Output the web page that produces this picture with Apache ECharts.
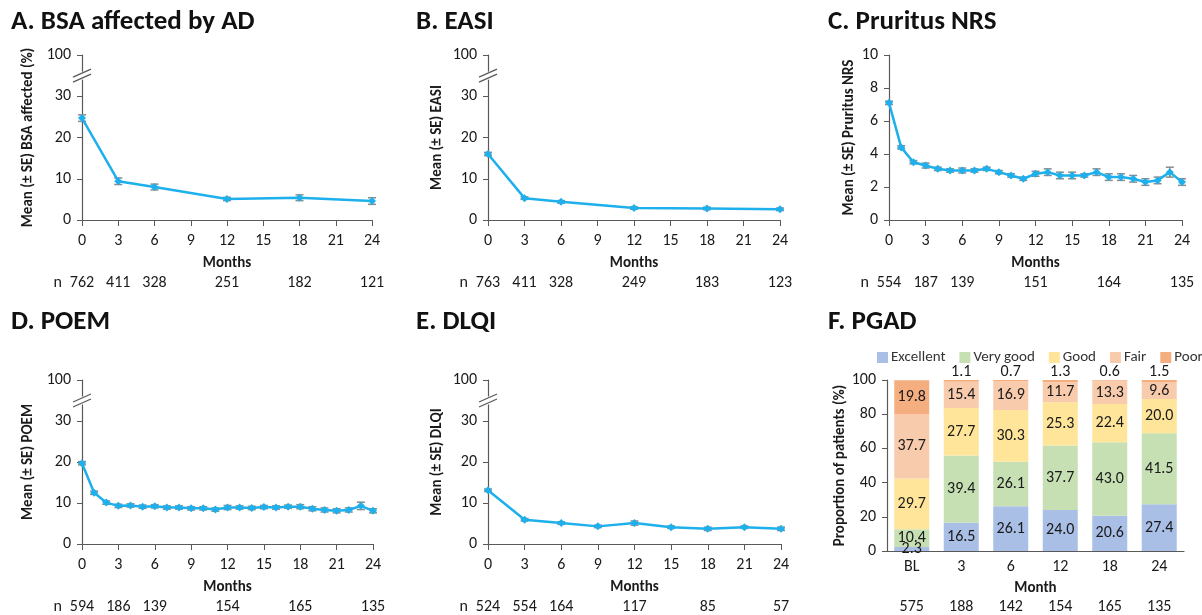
<!DOCTYPE html>
<html>
<head>
<meta charset="utf-8">
<title>Outcomes over 24 months</title>
<script src="https://cdn.jsdelivr.net/npm/echarts@6/dist/echarts.min.js"></script>
<style>
html, body { margin: 0; padding: 0; background: #fff; }
#main { width: 1202px; height: 615px; }
</style>
</head>
<body>
<div id="main"></div>
<script>
// ---- data ----
// A. BSA affected by AD
var bsaMonths = [0, 3, 6, 12, 18, 24];
var bsaMean = [24.7, 9.4, 8.0, 5.1, 5.4, 4.6];
var bsaSE = [0.8, 0.8, 0.7, 0.4, 0.7, 0.8];
var bsaN = [762, 411, 328, 251, 182, 121];

// B. EASI
var easiMonths = [0, 3, 6, 12, 18, 24];
var easiMean = [16.0, 5.3, 4.4, 2.9, 2.8, 2.6];
var easiSE = [0.4, 0.3, 0.3, 0.3, 0.3, 0.3];
var easiN = [763, 411, 328, 249, 183, 123];

// C. Pruritus NRS (monthly)
var nrsMonths = [0, 1, 2, 3, 4, 5, 6, 7, 8, 9, 10, 11, 12, 13, 14, 15, 16, 17, 18, 19, 20, 21, 22, 23, 24];
var nrsMean = [7.1, 4.4, 3.5, 3.3, 3.1, 3.0, 3.0, 3.0, 3.1, 2.9, 2.7, 2.5, 2.8, 2.9, 2.7, 2.7, 2.7, 2.9, 2.6, 2.6, 2.5, 2.3, 2.4, 2.9, 2.3];
var nrsSE = [0.1, 0.1, 0.1, 0.15, 0.1, 0.1, 0.15, 0.1, 0.1, 0.1, 0.1, 0.1, 0.15, 0.2, 0.2, 0.2, 0.1, 0.2, 0.2, 0.2, 0.2, 0.2, 0.2, 0.3, 0.2];
var nrsNMonths = [0, 3, 6, 12, 18, 24];
var nrsN = [554, 187, 139, 151, 164, 135];

// D. POEM (monthly)
var poemMonths = nrsMonths;
var poemMean = [19.7, 12.5, 10.1, 9.3, 9.4, 9.1, 9.2, 8.9, 8.9, 8.7, 8.7, 8.4, 8.9, 8.9, 8.8, 9.0, 8.9, 9.1, 9.1, 8.6, 8.3, 8.1, 8.3, 9.3, 8.1];
var poemSE = [0.4, 0.4, 0.4, 0.4, 0.4, 0.4, 0.4, 0.4, 0.4, 0.4, 0.4, 0.4, 0.5, 0.4, 0.4, 0.4, 0.4, 0.4, 0.5, 0.5, 0.5, 0.5, 0.5, 0.9, 0.5];
var poemNMonths = [0, 3, 6, 12, 18, 24];
var poemN = [594, 186, 139, 154, 165, 135];

// E. DLQI
var dlqiMonths = [0, 3, 6, 9, 12, 15, 18, 21, 24];
var dlqiMean = [13.1, 5.9, 5.1, 4.3, 5.1, 4.1, 3.7, 4.1, 3.7];
var dlqiSE = [0.3, 0.3, 0.3, 0.3, 0.5, 0.3, 0.4, 0.3, 0.4];
var dlqiNMonths = [0, 3, 6, 12, 18, 24];
var dlqiN = [524, 554, 164, 117, 85, 57];

// F. PGAD (% of patients)
var pgadMonths = ['BL', '3', '6', '12', '18', '24'];
var pgadN = [575, 188, 142, 154, 165, 135];
var pgadExcellent = [2.3, 16.5, 26.1, 24.0, 20.6, 27.4];
var pgadVeryGood = [10.4, 39.4, 26.1, 37.7, 43.0, 41.5];
var pgadGood = [29.7, 27.7, 30.3, 25.3, 22.4, 20.0];
var pgadFair = [37.7, 15.4, 16.9, 11.7, 13.3, 9.6];
var pgadPoor = [19.8, 1.1, 0.7, 1.3, 0.6, 1.5];

// ---- chart ----
var FONT = 'Carlito, Lato, sans-serif';
var AXIS_COLOR = '#595959';
var TEXT_COLOR = '#1a1a1a';
var LINE_COLOR = '#1eb0ec';

var myChart = echarts.init(document.getElementById('main'));

var grids = [
	{ left: 82, top: 55, width: 290, height: 165 },
	{ left: 488, top: 55, width: 292, height: 165 },
	{ left: 889, top: 55, width: 293, height: 165 },
	{ left: 82, top: 380, width: 291, height: 165 },
	{ left: 488, top: 380, width: 293, height: 165 },
	{ left: 887, top: 380, width: 297, height: 172 }
];

var panels = [
	{ months: bsaMonths, mean: bsaMean, se: bsaSE, nMonths: bsaMonths, n: bsaN, yName: 'Mean (\u00b1 SE) BSA affected (%)', broken: true, nameGap: 46 },
	{ months: easiMonths, mean: easiMean, se: easiSE, nMonths: easiMonths, n: easiN, yName: 'Mean (\u00b1 SE) EASI', broken: true, nameGap: 43 },
	{ months: nrsMonths, mean: nrsMean, se: nrsSE, nMonths: nrsNMonths, n: nrsN, yName: 'Mean (\u00b1 SE) Pruritus NRS', broken: false, nameGap: 32 },
	{ months: poemMonths, mean: poemMean, se: poemSE, nMonths: poemNMonths, n: poemN, yName: 'Mean (\u00b1 SE) POEM', broken: true, nameGap: 46 },
	{ months: dlqiMonths, mean: dlqiMean, se: dlqiSE, nMonths: dlqiNMonths, n: dlqiN, yName: 'Mean (\u00b1 SE) DLQI', broken: true, nameGap: 43 }
];

var titles = [
	{ text: 'A. BSA affected by AD', left: 6, top: 4 },
	{ text: 'B. EASI', left: 411, top: 4 },
	{ text: 'C. Pruritus NRS', left: 823, top: 4 },
	{ text: 'D. POEM', left: 6, top: 304 },
	{ text: 'E. DLQI', left: 411, top: 304 },
	{ text: 'F. PGAD', left: 823, top: 304 }
];
titles.forEach(function (t) {
	t.textStyle = { fontFamily: FONT, fontSize: 27, fontWeight: 'bold', color: '#111' };
});

var labelStyle = { fontFamily: FONT, fontSize: 16, color: TEXT_COLOR };
var nameStyle = { fontFamily: FONT, fontSize: 15, fontWeight: 'bold', color: TEXT_COLOR };

function errorBar(params, api) {
	var x = api.value(0);
	var lo = api.coord([x, api.value(1)]);
	var hi = api.coord([x, api.value(2)]);
	var w = 4;
	var st = { stroke: '#8a8a8a', lineWidth: 1.5 };
	return {
		type: 'group',
		children: [
			{ type: 'line', shape: { x1: lo[0], y1: lo[1], x2: hi[0], y2: hi[1] }, style: st },
			{ type: 'line', shape: { x1: lo[0] - w, y1: lo[1], x2: lo[0] + w, y2: lo[1] }, style: st },
			{ type: 'line', shape: { x1: hi[0] - w, y1: hi[1], x2: hi[0] + w, y2: hi[1] }, style: st }
		]
	};
}

var xAxes = [], yAxes = [], series = [];

panels.forEach(function (p, i) {
	xAxes.push({
		type: 'value', gridIndex: i, min: 0, max: 24, interval: 3,
		name: 'Months', nameLocation: 'middle', nameGap: 36, nameTextStyle: nameStyle,
		axisLine: { lineStyle: { color: AXIS_COLOR, width: 1.2 } },
		axisTick: { length: 6, lineStyle: { color: AXIS_COLOR } },
		axisLabel: Object.assign({ margin: 13 }, labelStyle),
		splitLine: { show: false }
	});
	// row of n below the axis
	xAxes.push({
		type: 'value', gridIndex: i, min: 0, max: 24, position: 'bottom', offset: 63,
		name: 'n', nameLocation: 'start', nameGap: 20,
		nameTextStyle: Object.assign({ verticalAlign: 'middle' }, labelStyle, { fontWeight: 'normal' }),
		axisLine: { show: false }, axisTick: { show: false }, splitLine: { show: false },
		axisLabel: Object.assign({
			margin: 0, verticalAlign: 'middle',
			customValues: p.nMonths,
			formatter: (function (nm, nv) {
				return function (v) { var k = nm.indexOf(v); return k < 0 ? '' : String(nv[k]); };
			})(p.nMonths, p.n)
		}, labelStyle)
	});
	yAxes.push({
		type: 'value', gridIndex: i, min: 0,
		max: p.broken ? 40 : 10, interval: p.broken ? 10 : 2,
		name: p.yName, nameLocation: 'middle', nameRotate: 90, nameGap: p.nameGap,
		nameTextStyle: nameStyle,
		axisLine: { show: true, lineStyle: { color: AXIS_COLOR, width: 1.2 } },
		axisTick: { show: true, length: 5, lineStyle: { color: AXIS_COLOR } },
		axisLabel: Object.assign({
			margin: 11,
			formatter: p.broken ? function (v) { return v === 40 ? '100' : String(v); } : '{value}'
		}, labelStyle),
		splitLine: { show: false }
	});
	series.push({
		type: 'custom', xAxisIndex: 2 * i, yAxisIndex: i, z: 1,
		renderItem: errorBar,
		encode: { x: 0, y: [1, 2] },
		data: p.months.map(function (m, k) { return [m, p.mean[k] - p.se[k], p.mean[k] + p.se[k]]; }),
		silent: true
	});
	series.push({
		type: 'line', xAxisIndex: 2 * i, yAxisIndex: i, z: 2,
		data: p.months.map(function (m, k) { return [m, p.mean[k]]; }),
		symbol: 'diamond', symbolSize: 8,
		lineStyle: { color: LINE_COLOR, width: 2.5 },
		itemStyle: { color: LINE_COLOR },
		silent: true
	});
});

// F. PGAD stacked bars
xAxes.push({
	type: 'category', gridIndex: 5, data: pgadMonths,
	name: 'Month', nameLocation: 'middle', nameGap: 30, nameTextStyle: nameStyle,
	axisLine: { lineStyle: { color: AXIS_COLOR, width: 1.2 } },
	axisTick: { show: false },
	axisLabel: Object.assign({ margin: 8 }, labelStyle)
});
xAxes.push({
	type: 'category', gridIndex: 5, data: pgadMonths, position: 'bottom', offset: 56,
	axisLine: { show: false }, axisTick: { show: false },
	axisLabel: Object.assign({
		margin: 0, verticalAlign: 'middle',
		formatter: function (v, idx) { return String(pgadN[idx]); }
	}, labelStyle)
});
yAxes.push({
	type: 'value', gridIndex: 5, min: 0, max: 100, interval: 20,
	name: 'Proportion of patients (%)', nameLocation: 'middle', nameRotate: 90, nameGap: 39,
	nameTextStyle: nameStyle,
	axisLine: { show: true, lineStyle: { color: AXIS_COLOR, width: 1.2 } },
	axisTick: { show: true, length: 5, lineStyle: { color: AXIS_COLOR } },
	axisLabel: Object.assign({ margin: 11 }, labelStyle),
	splitLine: { show: false }
});

var pgadSeries = [
	{ name: 'Excellent', data: pgadExcellent, color: '#a9bfe6' },
	{ name: 'Very good', data: pgadVeryGood, color: '#c6e0b4' },
	{ name: 'Good', data: pgadGood, color: '#ffe599' },
	{ name: 'Fair', data: pgadFair, color: '#f8cbad' },
	{ name: 'Poor', data: pgadPoor, color: '#f4ae80' }
];
pgadSeries.forEach(function (s) {
	series.push({
		type: 'bar', name: s.name, stack: 'pgad', xAxisIndex: 10, yAxisIndex: 5,
		barWidth: 35,
		itemStyle: { color: s.color },
		label: Object.assign({ show: true, position: 'inside', formatter: function (p) { return p.value.toFixed(1); } }, labelStyle),
		data: s.data.map(function (v) {
			if (s.name === 'Poor' && v < 5) {
				return { value: v, label: { position: 'top', distance: 0 } };
			}
			return v;
		}),
		silent: true
	});
});

option = {
	backgroundColor: '#fff',
	animation: false,
	title: titles,
	legend: {
		left: 872, top: 345, width: 400,
		icon: 'rect', itemWidth: 11, itemHeight: 11, itemGap: 14,
		textStyle: { fontFamily: FONT, fontSize: 15, color: '#333', padding: [0, 0, 0, -2] },
		data: pgadSeries.map(function (s) { return s.name; })
	},
	grid: grids,
	xAxis: xAxes,
	yAxis: yAxes,
	series: series
};
myChart.setOption(option);

// axis break marks (//) between 30 and 100 on the broken axes
var breakGraphics = [];
panels.forEach(function (p, i) {
	if (!p.broken) return;
	var y = myChart.convertToPixel({ yAxisIndex: i }, 35);
	var x = grids[i].left;
	var st = { stroke: AXIS_COLOR, lineWidth: 1.3 };
	breakGraphics.push({ type: 'rect', shape: { x: x - 3, y: y - 4, width: 6, height: 8 }, style: { fill: '#fff' }, z: 100 });
	breakGraphics.push({ type: 'line', shape: { x1: x - 9, y1: y + 1.5, x2: x + 9, y2: y - 6.5 }, style: st, z: 101 });
	breakGraphics.push({ type: 'line', shape: { x1: x - 9, y1: y + 6.5, x2: x + 9, y2: y - 1.5 }, style: st, z: 101 });
});
myChart.setOption({ graphic: breakGraphics });
</script>
</body>
</html>
